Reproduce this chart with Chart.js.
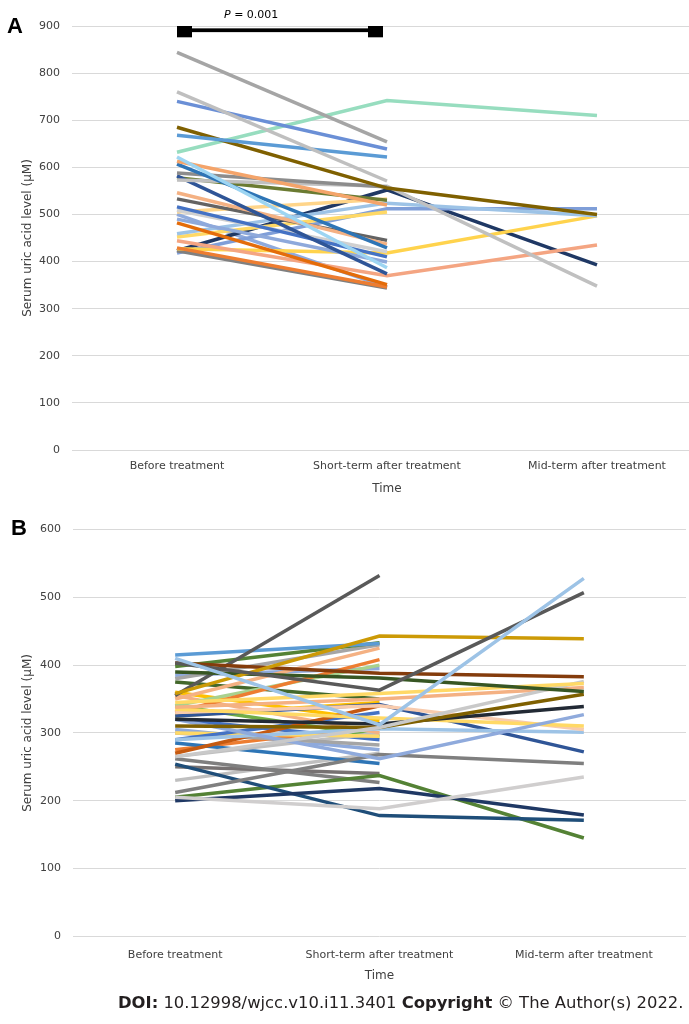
<!DOCTYPE html>
<html>
<head>
<meta charset="utf-8">
<script src="https://cdn.jsdelivr.net/npm/chart.js@4.4.0/dist/chart.umd.min.js"></script>
<style>
  html, body { margin: 0; padding: 0; background: #fff; }
  body { position: relative; width: 689px; height: 1024px; overflow: hidden; font-family: "DejaVu Sans", sans-serif; }
  canvas { position: absolute; left: 0; }
  #chartA { top: 0; }
  #chartB { top: 505px; }
  .panel { position: absolute; font-family: "Liberation Sans", Arial, sans-serif; font-weight: bold; font-size: 22px; line-height: 22px; color: #000; }
  #pval { position: absolute; left: 224px; top: 8px; font-size: 11px; line-height: 13px; color: #000; white-space: nowrap; }
  #doi { position: absolute; left: 118px; top: 993px; font-size: 16.4px; line-height: 20px; color: #231F20; white-space: nowrap; }
</style>
</head>
<body>
<canvas id="chartA" width="704" height="500"></canvas>
<canvas id="chartB" width="689" height="490"></canvas>
<div class="panel" style="left:7px; top:15px;">A</div>
<div class="panel" style="left:11px; top:517px;">B</div>
<div id="pval"><i>P</i> = 0.001</div>
<div id="doi"><b>DOI:</b> 10.12998/wjcc.v10.i11.3401 <b>Copyright</b> © The Author(s) 2022.</div>
<script>
const categories = ['Before treatment', 'Short-term after treatment', 'Mid-term after treatment'];
const yTitle = 'Serum uric acid level (\u03bcM)';

// Panel A: one entry per patient (null = no mid-term value)
const aBefore = [844, 760, 740, 668, 685, 632, 622, 613, 607, 588, 573, 582, 578, 546, 533, 516, 509, 505, 490, 482, 459, 452, 444, 429, 427, 423, 418, 423, 500];
const aShort  = [654, 571, 639, 622, 556, 742, 387, 520, 429, 558, 560, 374, 530, 437, 445, 410, 421, 533, 399, 351, 524, 505, 370, 346, 418, 344, 512, 552, 346];
const aMid    = [null, null, null, null, 500, 710, null, null, null, null, 348, null, null, null, null, null, null, null, null, null, 497, null, 435, null, 497, null, 512, 393, null];
const aColors = ['#A5A5A5', '#BFBFBF', '#6A8FD6', '#5B9BD5', '#7F6000', '#97DDBF', '#9DD5F2', '#F4A46A', '#2E75B6', '#8C8C8C',
                 '#C0C0C0', '#2F5597', '#6B7B32', '#F4B183', '#636363', '#4472C4', '#D0D0D0', '#FFD58A', '#8EA9DB', '#E46C0A',
                 '#9DC3E6', '#FFD966', '#F4A582', '#ED7D31', '#FFD34D', '#808080', '#7F9ED8', '#1F3864', '#8FAADC'];
const aTicks = [0, 900, 100];

// Panel B
const bBefore = [410, 403, 358, 403, 390, 345, 265, 338, 310, 320, 320, 335, 330, 290, 325, 212, 205, 200, 254, 205,
                 355, 415, 398, 380, 350, 330, 340, 385, 375, 270, 325, 290, 355, 300, 300, 265, 340, 285, 262, 250, 230, 275, 320, 305, 360];
const bShort  = [312, 363, 443, 388, 381, 358, 308, 350, 308, 313, 262, 322, 340, 306, 342, 268, 188, 218, 178, 237,
                 532, 432, 433, 430, 425, 408, 400, 395, 350, 340, 345, 330, 300, 295, 282, 300, 295, 255, 227, 240, 270, 310, 290, 275, 318];
const bMid    = [528, 507, 439, 383, 361, 373, 376, 367, 357, 339, 327, 310, 305, 301, 272, 255, 235, 179, 171, 145,
                 null, null, null, null, null, null, null, null, null, null, null, null, null, null, null, null, null, null, null, null, null, null, null, null, null];
const bColors = ['#9DC3E6', '#595959', '#CC9A06', '#843C0C', '#375623', '#FFD966', '#C9C9C9', '#F4B183', '#7F6000', '#222A35',
                 '#8FAADC', '#FFD966', '#F8CBAD', '#9DC3E6', '#2F5597', '#7F7F7F', '#D0CECE', '#1F3864', '#1F4E79', '#548235',
                 '#595959', '#5B9BD5', '#548235', '#A5A5A5', '#F4B183', '#ED7D31', '#A9D18E', '#8FAADC', '#43682B', '#C55A11',
                 '#FFC000', '#4472C4', '#F4B183', '#FFD966', '#A5A5A5', '#BFBFBF', '#70AD47', '#2E75B6', '#7F7F7F', '#767171',
                 '#BFBFBF', '#ED7D31', '#4472C4', '#8FAADC', '#FFC000'];
const bTicks = [0, 600, 100];

function buildDatasets(before, short, mid, colors) {
    return before.map((v, i) => ({
        data: [v, short[i], mid[i]],
        borderColor: colors[i],
        backgroundColor: colors[i],
        borderWidth: 3.5,
        pointRadius: 0,
        tension: 0,
        spanGaps: false
    }));
}

function buildOptions(ticks, o) {
    return {
        responsive: false,
        animation: false,
        layout: { padding: { top: o.top, right: o.right, bottom: 0, left: 0 } },
        plugins: { legend: { display: false }, tooltip: { enabled: false } },
        scales: {
            x: {
                offset: true,
                grid: { display: false, drawTicks: false },
                border: { display: false },
                ticks: { color: '#404040', font: { family: 'DejaVu Sans', size: 11 }, padding: o.xPad, maxRotation: 0, autoSkip: false },
                title: { display: true, text: 'Time', color: '#404040', font: { family: 'DejaVu Sans', size: 12 }, padding: { top: 0, bottom: o.timePad } },
                afterFit: (scale) => { scale.height = o.xHeight; }
            },
            y: {
                min: ticks[0], max: ticks[1],
                grid: { color: '#D9D9D9', lineWidth: 1, drawTicks: false },
                border: { display: false },
                ticks: { stepSize: ticks[2], color: '#404040', font: { family: 'DejaVu Sans', size: 11 }, padding: 12 },
                title: { display: true, text: yTitle, color: '#404040', font: { family: 'DejaVu Sans', size: 12 }, padding: { top: 21, bottom: 0 } },
                afterFit: (scale) => { scale.width = o.yWidth; }
            }
        }
    };
}

// significance bracket between the first two time points of panel A
const bracketPlugin = {
    id: 'bracket',
    afterDatasetsDraw(chart) {
        const { ctx, scales: { x, y } } = chart;
        const x0 = x.getPixelForValue(0);
        const x1 = x.getPixelForValue(1) - 4;
        ctx.save();
        ctx.fillStyle = '#000';
        ctx.fillRect(x0, y.getPixelForValue(895), x1 - x0, y.getPixelForValue(887) - y.getPixelForValue(895));
        ctx.fillRect(x0, y.getPixelForValue(900), 15, y.getPixelForValue(876) - y.getPixelForValue(900));
        ctx.fillRect(x1 - 15, y.getPixelForValue(900), 15, y.getPixelForValue(876) - y.getPixelForValue(900));
        ctx.restore();
    }
};

document.addEventListener('DOMContentLoaded', function() {
    new Chart(document.getElementById('chartA').getContext('2d'), {
        type: 'line',
        data: { labels: categories, datasets: buildDatasets(aBefore, aShort, aMid, aColors) },
        options: buildOptions(aTicks, { top: 26, right: 2, xPad: 10, xHeight: 50, timePad: 4, yWidth: 72 }),
        plugins: [bracketPlugin]
    });
    new Chart(document.getElementById('chartB').getContext('2d'), {
        type: 'line',
        data: { labels: categories, datasets: buildDatasets(bBefore, bShort, bMid, bColors) },
        options: buildOptions(bTicks, { top: 24.5, right: 3, xPad: 12, xHeight: 58.7, timePad: 12, yWidth: 73 })
    });
});
</script>
</body>
</html>
